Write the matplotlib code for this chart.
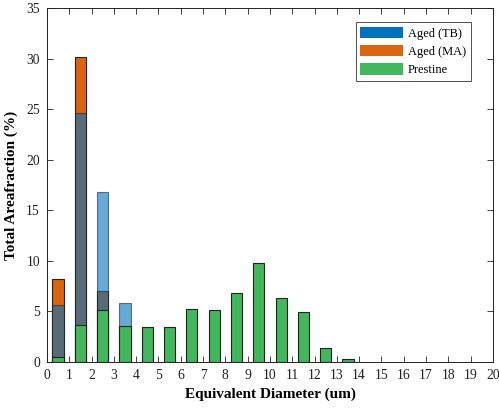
import numpy as np
import matplotlib
matplotlib.use('Agg')
import matplotlib.pyplot as plt
from matplotlib.patches import Patch

# bin centres (um) and area fractions (%)
centers = [0.5, 1.5, 2.5, 3.5, 4.5, 5.5, 6.5, 7.5, 8.5, 9.5, 10.5, 11.5, 12.5, 13.5]
aged_tb = [5.6, 24.6, 16.8, 5.8, 0, 0, 0, 0, 0, 0, 0, 0, 0, 0]
aged_ma = [8.2, 30.2, 7.05, 0, 0, 0, 0, 0, 0, 0, 0, 0, 0, 0]
prestine = [0.5, 3.7, 5.1, 3.6, 3.43, 3.45, 5.2, 5.1, 6.85, 9.8, 6.3, 4.9, 1.4, 0.33]

plt.rcParams['font.family'] = ['Liberation Serif', 'DejaVu Serif']

fig = plt.figure(figsize=(4.99, 4.08), dpi=100)
ax = fig.add_axes([0.094, 0.113, 0.894, 0.867])

blue = '#0072BD'
orange = '#DA6410'
green = '#43B75B'

w = 0.5
ax.bar(centers, aged_ma, width=w, color=orange, edgecolor='#222222', linewidth=0.8, zorder=2)
ax.bar(centers, aged_tb, width=w, color=blue, alpha=0.6, edgecolor='#222222', linewidth=0.8, zorder=3)
ax.bar(centers, prestine, width=w, color=green, edgecolor='#222222', linewidth=0.8, zorder=4)

# legend with solid patches
handles = [Patch(facecolor=blue, label='Aged (TB)'),
           Patch(facecolor=orange, label='Aged (MA)'),
           Patch(facecolor=green, label='Prestine')]
leg = ax.legend(handles=handles, loc='upper right', bbox_to_anchor=(0.958, 0.97),
                fontsize=8.9, fancybox=False, edgecolor='#333333', framealpha=1,
                handlelength=3.5, handleheight=1.0, borderpad=0.35, labelspacing=0.45,
                handletextpad=0.4, borderaxespad=0.3)
leg.get_frame().set_linewidth(0.6)

ax.set_xlim(0, 20)
ax.set_ylim(0, 35)
ax.set_xticks(np.arange(0, 21, 1))
ax.set_yticks(np.arange(0, 36, 5))
ax.tick_params(direction='in', top=True, right=True, labelsize=9.8, length=4, width=0.6,
               colors='#222222', pad=5)
for s in ax.spines.values():
    s.set_linewidth(0.7)
    s.set_color('#222222')

ax.set_xlabel('Equivalent Diameter (um)', fontsize=11, fontweight='bold', labelpad=4)
ax.set_ylabel('Total Areafraction (%)', fontsize=11, fontweight='bold', labelpad=6)

fig.savefig('out.png', dpi=100)
